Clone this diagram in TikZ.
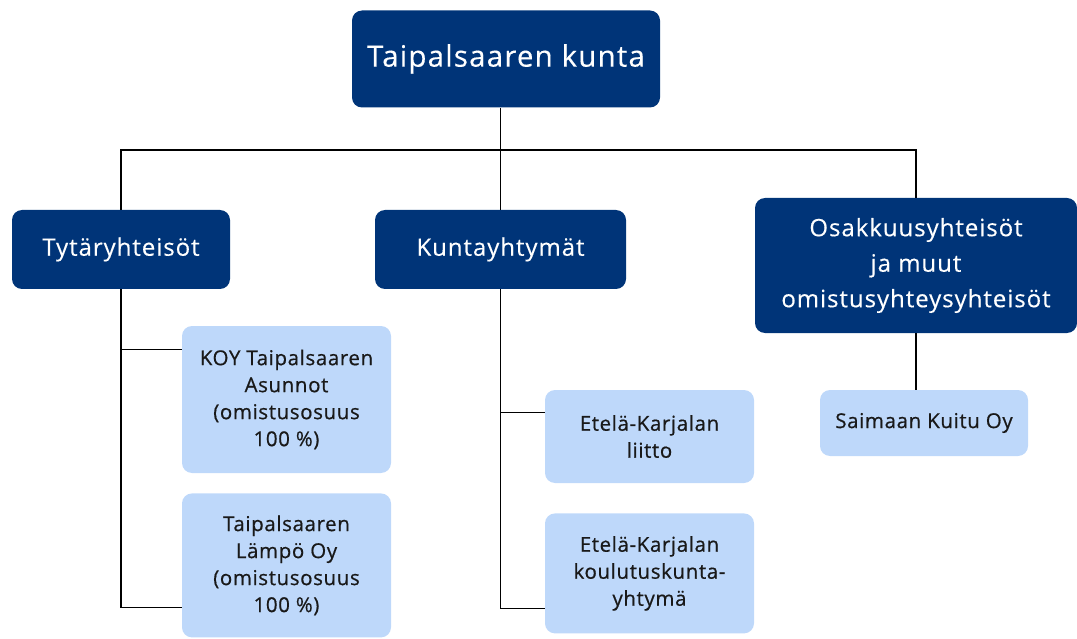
\documentclass[tikz,border=0pt]{standalone}
\usepackage{fontspec}
\setmainfont{Open Sans}
\newfontfamily\headfont{Open Sans}[LetterSpace=4, FakeBold=0.3]
\newfontfamily\unitfont{Open Sans}[LetterSpace=3, FakeBold=0.6]
\usetikzlibrary{positioning}
\definecolor{navy}{RGB}{0,52,120}
\definecolor{lightblue}{RGB}{190,216,250}
\tikzstyle{topbox}=[rectangle, rounded corners=10pt, fill=navy, text=white, minimum width=308pt, minimum height=97pt, inner sep=2pt, font=\headfont\fontsize{29.5}{32}\selectfont]
\tikzstyle{hbox}=[rectangle, rounded corners=10pt, fill=navy, text=white, align=center, inner sep=2pt, font=\headfont\fontsize{24}{35.5}\selectfont]
\tikzstyle{ubox}=[rectangle, rounded corners=10pt, fill=lightblue, text=black!90, align=center, minimum width=209pt, inner sep=2pt, font=\unitfont\fontsize{20.5}{27}\selectfont]
\tikzstyle{pline}=[-, line width=1.2pt]

\begin{document}
\begin{tikzpicture}[x=1pt,y=-1pt]
\useasboundingbox (0,0) rectangle (1077,639);
\node (KUNTA) [topbox] at (506,59) {Taipalsaaren kunta};
\node (TYT) [hbox, minimum width=218pt, minimum height=79pt] at (121,249.5) {Tytäryhteisöt};
\node (KY) [hbox, minimum width=251pt, minimum height=79pt] at (500.5,249.5) {Kuntayhtymät};
\node (OSA) [hbox, minimum width=322pt, minimum height=135pt] at (916,265.5) {Osakkuusyhteisöt\\ja muut\\omistusyhteysyhteisöt};
\coordinate (BUS) at (501,150);
 \draw[pline] (KY.north |- KUNTA.south) -- (KY.north);
 \draw[pline] (TYT.north) |- (OSA.north |- BUS) -- (OSA.north);
\node (KOY) [ubox, minimum height=147pt] at (286.5,399.5) {KOY Taipalsaaren\\Asunnot\\(omistusosuus\\100 \%)};
\node (LAMPO) [ubox, minimum height=144pt, below=20pt of KOY] {Taipalsaaren\\Lämpö Oy\\(omistusosuus\\100 \%)};
 \draw[pline] ([yshift=-24pt]KOY.north west) -| (TYT.south);
 \draw[pline] ([yshift=30pt]LAMPO.south west) -| (TYT.south);
\node (LIITTO) [ubox, minimum height=93pt] at (649.5,436.5) {Etelä-Karjalan\\liitto};
\node (KOUL) [ubox, minimum height=120pt, below=30pt of LIITTO] {Etelä-Karjalan\\koulutuskunta-\\yhtymä};
 \draw[pline] ([yshift=-23pt]LIITTO.north west) -| (KY.south);
 \draw[pline] ([yshift=25pt]KOUL.south west) -| (KY.south);
\node (SAIMAA) [ubox, minimum width=208pt, minimum height=66pt] at (924,423) {Saimaan Kuitu Oy};
 \draw[pline] (OSA.south) -- (OSA.south |- SAIMAA.north);
\end{tikzpicture}
\end{document}
